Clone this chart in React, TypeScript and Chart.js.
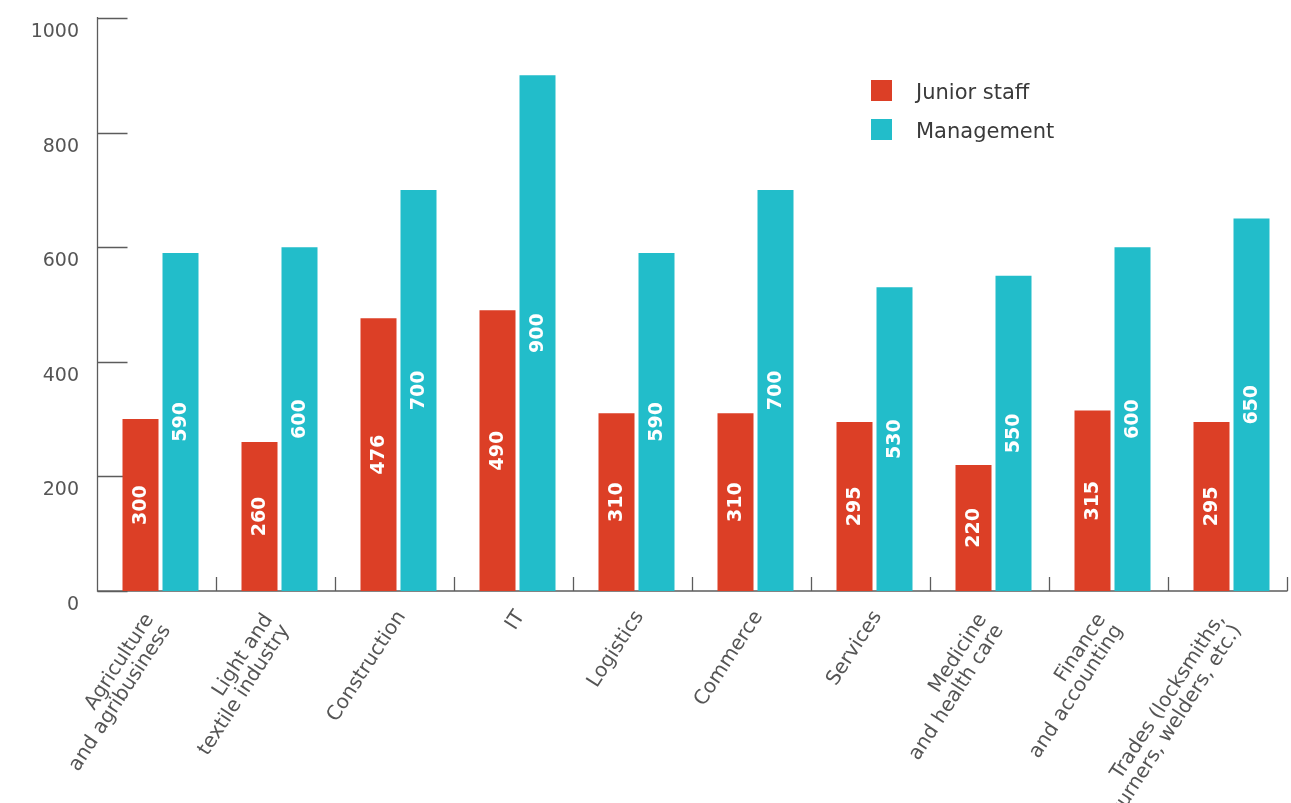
import React, { useEffect, useRef } from "react";
import { Chart, registerables } from "chart.js";

Chart.register(...registerables);

const categories: string[][] = [
  ["Agriculture", "and agribusiness"],
  ["Light and", "textile industry"],
  ["Construction"],
  ["IT"],
  ["Logistics"],
  ["Commerce"],
  ["Services"],
  ["Medicine", "and health care"],
  ["Finance", "and accounting"],
  ["Trades (locksmiths,", "turners, welders, etc.)"],
];
const juniorStaff = [300, 260, 476, 490, 310, 310, 295, 220, 315, 295];
const management = [590, 600, 700, 900, 590, 700, 530, 550, 600, 650];
const yTicks = [0, 200, 400, 600, 800, 1000];
const seriesNames = ["Junior staff", "Management"];
const seriesColors = ["#DC3F26", "#22BDCA"];

const FONT = "'DejaVu Sans', sans-serif";
const AXIS_COLOR = "#5c5c5c";
const TEXT_COLOR = "#555555";

const decorPlugin = {
  id: "decor",
  beforeDatasetsDraw(chart: any) {
    const { ctx, chartArea: a, scales } = chart;
    const x = scales.x;
    const y = scales.y;
    const ax = a.left - 3.5;
    ctx.save();
    ctx.strokeStyle = AXIS_COLOR;
    ctx.lineWidth = 1.3;
    ctx.beginPath();
    ctx.moveTo(ax, y.getPixelForValue(yTicks[yTicks.length - 1]) - 1);
    ctx.lineTo(ax, a.bottom);
    const step = x.getPixelForValue(1) - x.getPixelForValue(0);
    const first = x.getPixelForValue(0) - step / 2 - 3.5;
    ctx.lineTo(first + step * categories.length, a.bottom);
    yTicks.forEach((v) => {
      const py = Math.round(y.getPixelForValue(v)) + 0.5;
      ctx.moveTo(ax, py);
      ctx.lineTo(ax + 30, py);
    });
    for (let i = 0; i <= categories.length; i++) {
      const px = first + i * step;
      ctx.moveTo(px, a.bottom);
      ctx.lineTo(px, a.bottom - 14);
    }
    ctx.stroke();
    ctx.restore();
  },
  afterDatasetsDraw(chart: any) {
    const { ctx, chartArea: a, scales } = chart;
    const x = scales.x;
    ctx.save();
    // value labels inside bars
    ctx.fillStyle = "#ffffff";
    ctx.font = `bold 19px ${FONT}`;
    ctx.textAlign = "center";
    ctx.textBaseline = "middle";
    chart.data.datasets.forEach((ds: any, di: number) => {
      const meta = chart.getDatasetMeta(di);
      meta.data.forEach((bar: any, k: number) => {
        const p = bar.getProps(["x", "y", "base"], true);
        ctx.save();
        ctx.translate(p.x, (p.y + p.base) / 2);
        ctx.rotate(-Math.PI / 2);
        ctx.fillText(String(ds.data[k]), 0, 1);
        ctx.restore();
      });
    });
    // category labels
    ctx.fillStyle = TEXT_COLOR;
    ctx.font = `20px ${FONT}`;
    ctx.textAlign = "right";
    ctx.textBaseline = "middle";
    const lh = 20;
    categories.forEach((lines, i) => {
      const cx = x.getPixelForValue(i);
      ctx.save();
      ctx.translate(cx + 3, a.bottom + 22);
      ctx.rotate((-57 * Math.PI) / 180);
      const back = lines.length > 1 ? -10 : 0;
      lines.forEach((line, j) => {
        ctx.fillText(line, back, (j - (lines.length - 1) / 2) * lh);
      });
      ctx.restore();
    });
    ctx.restore();
  },
  afterDraw(chart: any) {
    const { ctx } = chart;
    ctx.save();
    ctx.font = `21px ${FONT}`;
    ctx.textAlign = "left";
    ctx.textBaseline = "middle";
    seriesNames.forEach((name, i) => {
      const top = 80 + i * 39;
      ctx.fillStyle = seriesColors[i];
      ctx.fillRect(871, top, 21, 21);
      ctx.fillStyle = "#3a3a3a";
      ctx.fillText(name, 916, top + 14);
    });
    ctx.restore();
  },
};

export default function App() {
  const canvasRef = useRef<HTMLCanvasElement | null>(null);

  useEffect(() => {
    const canvas = canvasRef.current;
    if (!canvas) return;
    const chart = new Chart(canvas, {
      type: "bar",
      data: {
        labels: categories.map((c) => c.join(" ")),
        datasets: [
          {
            label: seriesNames[0],
            data: juniorStaff,
            backgroundColor: seriesColors[0],
            borderWidth: 0,
          },
          {
            label: seriesNames[1],
            data: management,
            backgroundColor: seriesColors[1],
            borderWidth: 0,
          },
        ],
      },
      options: {
        responsive: false,
        devicePixelRatio: 1,
        animation: false,
        layout: { padding: { top: 18, left: 0, right: 0, bottom: 0 } },
        datasets: {
          bar: { categoryPercentage: 80 / 119, barPercentage: 0.9 },
        },
        plugins: {
          legend: { display: false },
          tooltip: { enabled: false },
        },
        scales: {
          x: {
            offset: true,
            grid: { display: false, drawTicks: false },
            border: { display: false },
            ticks: { display: false },
            afterFit: (s: any) => {
              s.height = 212;
              s.paddingLeft = 0;
              s.paddingRight = 0;
            },
          },
          y: {
            min: 0,
            max: 1000,
            grid: { display: false, drawTicks: false },
            border: { display: false },
            afterBuildTicks: (s: any) => {
              s.ticks = yTicks.map((v) => ({ value: v }));
            },
            ticks: {
              labelOffset: 14,
              padding: 22,
              color: TEXT_COLOR,
              font: { family: FONT, size: 19 },
              callback: (v: any) => String(v),
            },
            afterFit: (s: any) => {
              s.width = 101;
              s.paddingTop = 0;
              s.paddingBottom = 0;
            },
          },
        },
      },
      plugins: [decorPlugin],
    });
    return () => chart.destroy();
  }, []);

  return (
    <div style={{ position: "absolute", left: 0, top: 0, width: 1291, height: 803, background: "#fff" }}>
      <canvas ref={canvasRef} width={1291} height={803} style={{ display: "block" }} />
    </div>
  );
}
